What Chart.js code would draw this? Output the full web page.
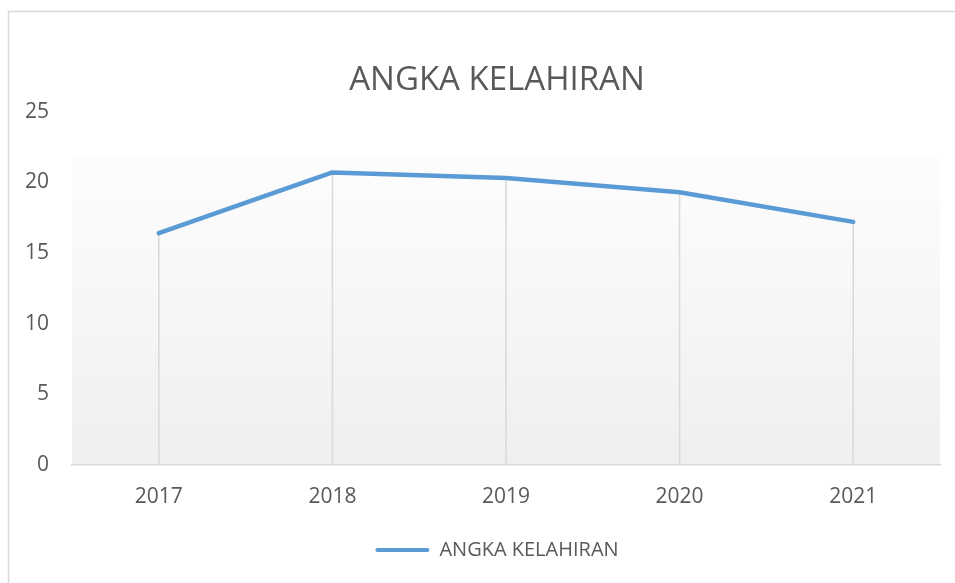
<!DOCTYPE html>
<html>
<head>
<meta charset="utf-8">
<script src="https://cdn.jsdelivr.net/npm/chart.js@4.4.1/dist/chart.umd.min.js"></script>
<style>
    html, body { margin: 0; padding: 0; background: #fff; overflow: hidden; width: 955px; height: 583px; }
    #wrap { width: 990px; height: 583px; position: relative; }
</style>
</head>
<body>
<div id="wrap"><canvas id="birthChart"></canvas></div>
<script>
const years = ["2017", "2018", "2019", "2020", "2021"];
const birthRate = [16.4, 20.7, 20.3, 19.3, 17.2];
const yMin = 0;
const yMax = 25;
const yStep = 5;
const seriesName = "ANGKA KELAHIRAN";

const textColor = "#595959";
const lineColor = "#5B9BD5";
const dropColor = "#d9d9d9";
const fontFamily = "'Open Sans', sans-serif";

// outer chart frame + plot area gradient (Excel style)
const framePlugin = {
    id: "frame",
    beforeDraw: function (chart) {
        const ctx = chart.ctx;
        const area = chart.chartArea;
        ctx.save();
        ctx.strokeStyle = "#d9d9d9";
        ctx.lineWidth = 1.5;
        ctx.strokeRect(8.5, 11.5, chart.width + 50, chart.height + 50);

        const bgTop = area.top + 45;
        const grad = ctx.createLinearGradient(0, bgTop, 0, area.bottom);
        grad.addColorStop(0, "#fdfdfd");
        grad.addColorStop(1, "#efefef");
        ctx.fillStyle = grad;
        ctx.fillRect(area.left, bgTop, area.right - area.left, area.bottom - bgTop);
        ctx.restore();
    }
};

// vertical drop lines from each point down to the category axis
const dropLinesPlugin = {
    id: "dropLines",
    beforeDatasetsDraw: function (chart) {
        const ctx = chart.ctx;
        const meta = chart.getDatasetMeta(0);
        ctx.save();
        ctx.strokeStyle = dropColor;
        ctx.lineWidth = 1.5;
        meta.data.forEach(function (pt) {
            ctx.beginPath();
            ctx.moveTo(pt.x, pt.y);
            ctx.lineTo(pt.x, chart.chartArea.bottom);
            ctx.stroke();
        });
        ctx.restore();
    }
};

const ctx = document.getElementById("birthChart").getContext("2d");
new Chart(ctx, {
    type: "line",
    data: {
        labels: years,
        datasets: [{
            label: seriesName,
            data: birthRate,
            borderColor: lineColor,
            backgroundColor: lineColor,
            borderWidth: 4.5,
            borderCapStyle: "round",
            borderJoinStyle: "round",
            pointRadius: 0,
            pointHoverRadius: 0,
            tension: 0,
            fill: false
        }]
    },
    options: {
        responsive: true,
        maintainAspectRatio: false,
        animation: false,
        layout: {
            padding: { top: 12, left: 8, right: 4, bottom: 13 }
        },
        scales: {
            x: {
                offset: true,
                grid: { display: false, drawTicks: false },
                border: { display: true, color: dropColor, width: 1.5 },
                ticks: {
                    color: textColor,
                    padding: 19,
                    font: { family: fontFamily, size: 21 }
                },
                afterFit: function (scale) { scale.height = 65; }
            },
            y: {
                min: yMin,
                max: yMax,
                grid: { display: false, drawTicks: false },
                border: { display: false },
                ticks: {
                    stepSize: yStep,
                    color: textColor,
                    padding: 23,
                    font: { family: fontFamily, size: 21 }
                },
                afterFit: function (scale) { scale.width = 64; }
            },
            // empty right-hand spacer, the Excel chart area runs past the window
            ySpacer: {
                type: "linear",
                position: "right",
                display: true,
                grid: { display: false, drawTicks: false },
                border: { display: false },
                ticks: { display: false },
                afterFit: function (scale) { scale.width = 46; }
            }
        },
        plugins: {
            title: {
                display: true,
                text: seriesName,
                color: textColor,
                font: { family: fontFamily, size: 33, weight: "normal" },
                padding: { top: 49, bottom: 11 }
            },
            legend: {
                display: true,
                position: "bottom",
                labels: {
                    color: textColor,
                    boxWidth: 54,
                    boxHeight: 4,
                    padding: 10,
                    useBorderRadius: true,
                    borderRadius: 2,
                    font: { family: fontFamily, size: 20 },
                    generateLabels: function (chart) {
                        const items = Chart.defaults.plugins.legend.labels.generateLabels(chart);
                        items.forEach(function (it) {
                            it.lineWidth = 0;
                            it.fillStyle = lineColor;
                        });
                        return items;
                    }
                }
            },
            tooltip: { enabled: false }
        }
    },
    plugins: [framePlugin, dropLinesPlugin]
});
</script>
</body>
</html>
